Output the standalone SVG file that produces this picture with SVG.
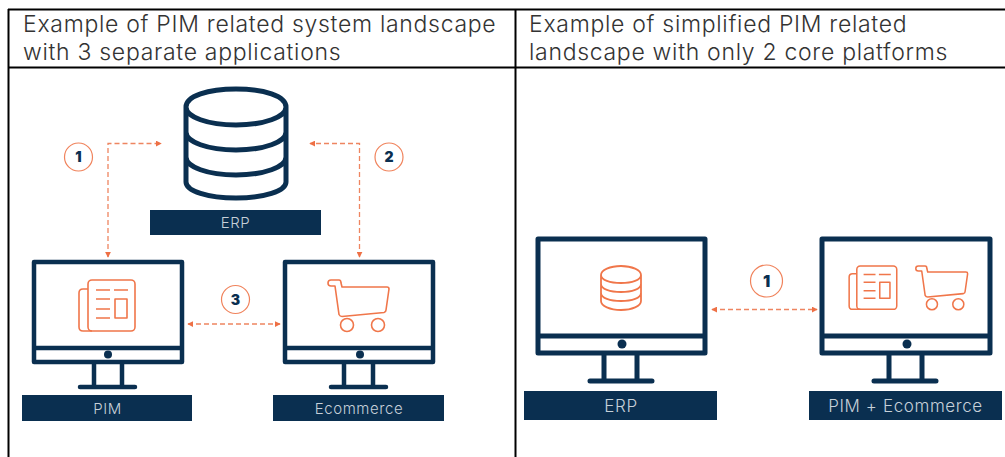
<svg xmlns="http://www.w3.org/2000/svg" width="1005" height="457" viewBox="0 0 1005 457">
<style>
.grid{stroke:#000;stroke-width:2;fill:none}
.head{font-family:Inter,"Liberation Sans",sans-serif;font-weight:300;font-size:23px;letter-spacing:.7px;fill:#333}
.mon{fill:none;stroke:#0a2f50;stroke-linejoin:round;stroke-linecap:round}
.db{fill:none;stroke:#0a2f50;stroke-width:5}
.ico{fill:none;stroke:#f0764a;stroke-linejoin:round}
.bar{fill:#0a2f50}
.lab{font-family:Inter,"Liberation Sans",sans-serif;font-weight:300;fill:#c6d0d9;text-anchor:middle;letter-spacing:.6px}
.con{fill:none;stroke:#ee8560;stroke-width:1.3;stroke-dasharray:5 3;marker-start:url(#a);marker-end:url(#a)}
.cir{fill:#fff;stroke:#f0835c;stroke-width:1.2}
.num{font-family:Inter,"Liberation Sans",sans-serif;font-weight:900;fill:#0a2f50;text-anchor:middle}
</style>
<defs>
<marker id="a" viewBox="0 0 8 8" refX="7" refY="4" markerWidth="6" markerHeight="6" markerUnits="userSpaceOnUse" orient="auto-start-reverse"><path d="M0 0L8 4L0 8Z" fill="#ee7045"/></marker>
<g id="news">
<rect x="88" y="280" width="47" height="51" rx="4"/>
<path d="M88 289H83Q79 289 79 293V327Q79 331 83 331H92"/>
<path d="M96 290H110M114 290H128M96 299H110M96 309H110M96 318H110"/>
<rect x="115" y="299" width="12" height="19"/>
</g>
<g id="cart">
<path d="M335 286H331Q328 286 328 283Q328 280 331 280H339Q341 280 341 283L342 287H387Q389 287 389 289L386 310Q386 312 384 312.500L342 316.500Q340 316.500 339 314.500Z"/>
<circle cx="347" cy="325" r="6.500"/><circle cx="378" cy="325" r="6.500"/>
</g>
</defs>
<g id="table" class="grid">
<path d="M8 9.500H1005M8 67.500H1005M8.500 9V457M515.500 9V457"/>
</g>
<g id="headers">
<text class="head" x="23" y="32">Example of PIM related system landscape</text>
<text class="head" x="23" y="60">with 3 separate applications</text>
<text class="head" x="529" y="32">Example of simplified PIM related</text>
<text class="head" x="529" y="60">landscape with only 2 core platforms</text>
</g>
<g id="connectors">
<path class="con" d="M108 257V143.500H161"/>
<path class="con" d="M359.500 257V143.500H310"/>
<path class="con" d="M188 324H280"/>
<path class="con" d="M712 309.500H817"/>
</g>
<g id="erp-db">
<path class="db" d="M186 107C186 96 208 89 236 89S286 96 286 107V182C286 191 264 198 236 198S186 191 186 182ZM186 107C186 117 208 125 236 125S286 117 286 107M186 132C186 142 208 150 236 150S286 142 286 132M186 157C186 167 208 175 236 175S286 167 286 157"/>
<rect class="bar" x="150" y="210" width="171" height="25"/>
<text class="lab" x="235.500" y="228" font-size="15">ERP</text>
</g>
<g id="pim">
<path class="mon" stroke-width="4.500" d="M34 262H182V362H34ZM34 348H182M94 364V387M122 364V387M80 387H135"/>
<circle cx="108" cy="354.500" r="4" fill="#0a2f50"/>
<use href="#news" class="ico" stroke-width="1.600"/>
<rect class="bar" x="22" y="395" width="170" height="26"/>
<text class="lab" x="107.500" y="414" font-size="15">PIM</text>
</g>
<g id="ecommerce">
<path class="mon" stroke-width="4.500" d="M285 262H433V362H285ZM285 348H433M344 364V387M373 364V387M331 387H386"/>
<circle cx="360" cy="354.500" r="4" fill="#0a2f50"/>
<use href="#cart" class="ico" stroke-width="1.600"/>
<rect class="bar" x="273" y="395" width="171" height="26"/>
<text class="lab" x="359" y="414" font-size="15">Ecommerce</text>
</g>
<g id="badge-1"><circle class="cir" cx="78.500" cy="157" r="14"/><text class="num" x="78.500" y="162" font-size="14">1</text></g>
<g id="badge-2"><circle class="cir" cx="389" cy="157" r="14"/><text class="num" x="389" y="162" font-size="14">2</text></g>
<g id="badge-3"><circle class="cir" cx="235.500" cy="299.500" r="14"/><text class="num" x="235.500" y="304.500" font-size="14">3</text></g>
<g id="erp-right">
<path class="mon" stroke-width="5" d="M538 239H705V353H538ZM538 336H705M604 355V381M637 355V381M590 381H652"/>
<circle cx="622" cy="344" r="4.500" fill="#0a2f50"/>
<path class="ico" stroke-width="1.800" d="M601 275C601 270 610 266 621 266S641 270 641 275V301C641 306 632 310 621 310S601 306 601 301ZM601 275C601 280 610 283 621 283S641 280 641 275M601 284C601 289 610 292 621 292S641 289 641 284M601 293C601 298 610 301 621 301S641 298 641 293"/>
<rect class="bar" x="524" y="391" width="193" height="29"/>
<text class="lab" x="621" y="412" font-size="17">ERP</text>
</g>
<g id="pim-ecommerce">
<path class="mon" stroke-width="5" d="M822 239H990V353H822ZM822 336H990M889 355V381M922 355V381M874 381H936"/>
<circle cx="907" cy="344" r="4.500" fill="#0a2f50"/>
<use href="#news" class="ico" stroke-width="1.800" transform="translate(782 28) scale(.85)"/>
<use href="#cart" class="ico" stroke-width="1.800" transform="translate(637 28) scale(.85)"/>
<rect class="bar" x="809" y="391" width="193" height="29"/>
<text class="lab" x="905.500" y="412" font-size="17">PIM + Ecommerce</text>
</g>
<g id="badge-r1"><circle class="cir" cx="766.500" cy="281" r="16"/><text class="num" x="766.500" y="287" font-size="16">1</text></g>
</svg>
